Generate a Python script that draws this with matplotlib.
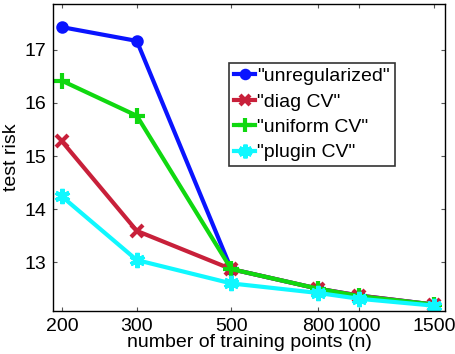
import numpy as np
import matplotlib
matplotlib.use('Agg')
import matplotlib.pyplot as plt
from matplotlib.ticker import FixedLocator, NullLocator

plt.rcParams['font.family'] = ['Liberation Sans', 'DejaVu Sans']

n_train = [200, 300, 500, 800, 1000, 1500]
risk_unreg = [17.43, 17.17, 12.87, 12.50, 12.37, 12.20]
risk_diag = [15.28, 13.59, 12.87, 12.50, 12.37, 12.20]
risk_uniform = [16.42, 15.76, 12.87, 12.50, 12.36, 12.20]
risk_plugin = [14.24, 13.04, 12.60, 12.42, 12.31, 12.18]

fig = plt.figure(figsize=(4.56, 3.54), dpi=100)
ax = fig.add_axes([53.3 / 456, 1 - 311 / 354, (445 - 53.3) / 456, (311 - 4.3) / 354])

lw = 3.0
ax.plot(n_train, risk_unreg, color='#0a14ff', lw=lw, marker='o', ms=7, mew=2,
        label='"unregularized"')
ax.plot(n_train, risk_diag, color='#c8203a', lw=lw, marker='x', ms=8, mew=3,
        label='"diag CV"')
ax.plot(n_train, risk_uniform, color='#10d810', lw=lw, marker='+', ms=11, mew=3,
        label='"uniform CV"')
ax.plot(n_train, risk_plugin, color='#10f8ff', lw=lw, marker=(6, 2, 0), ms=11, mew=3,
        label='"plugin CV"')

ax.set_xscale('log')
ax.set_xlim(191, 1589)
ax.set_ylim(12.08, 17.86)
ax.xaxis.set_major_locator(FixedLocator(n_train))
ax.xaxis.set_minor_locator(NullLocator())
ax.set_xticklabels([str(v) for v in n_train])
ax.set_yticks([13, 14, 15, 16, 17])
ax.tick_params(direction='in', length=3, labelsize=14, top=True, right=True,
               color='#555555', pad=5)
for s in ax.spines.values():
    s.set_linewidth(1.0)

ax.set_xlabel('number of training points (n)', fontsize=14, labelpad=-1)
ax.set_ylabel('test risk', fontsize=14, labelpad=3)

leg = ax.legend(loc='upper left', bbox_to_anchor=((229 - 53.3) / 391.7, 1 - (62.7 - 4.3) / 306.7),
                fontsize=14, frameon=True, fancybox=False, handlelength=1.1,
                handletextpad=0.1, borderpad=0.25, labelspacing=0.4, borderaxespad=0,
                markerscale=0.9)
leg.get_frame().set_edgecolor('black')
leg.get_frame().set_linewidth(1.2)

fig.savefig('out.png', dpi=100)
